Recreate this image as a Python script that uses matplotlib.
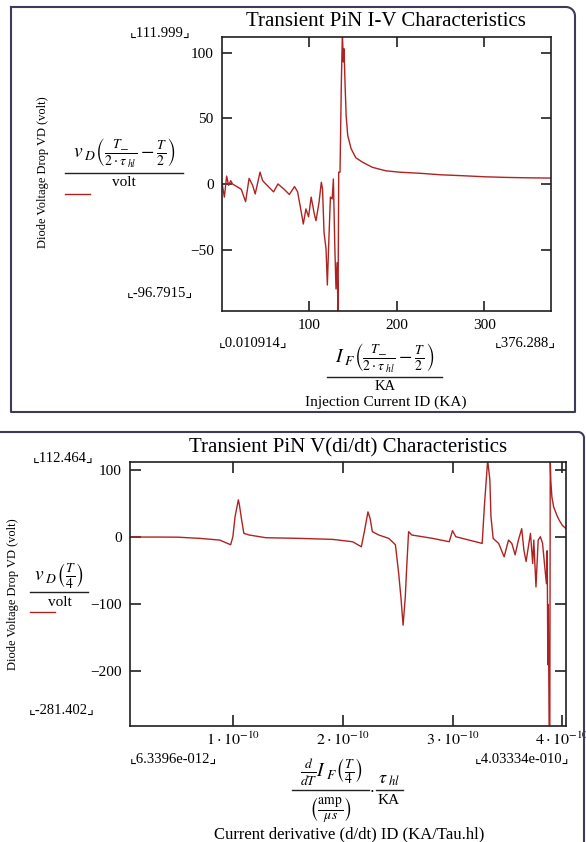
import numpy as np
import matplotlib.pyplot as plt
from matplotlib.lines import Line2D

plt.rcParams['font.family'] = ['Liberation Serif', 'DejaVu Sans']
plt.rcParams['mathtext.fontset'] = 'stix'

# ---- data ----
# top: transient PiN I-V (current KA, voltage volt)
iv_current = [0.01, 2.7, 5.3, 7.6, 10, 12, 22, 27, 31, 35, 38, 43.5, 46.5, 52, 59, 64,
              71, 77, 83, 86.5, 90, 93, 96, 99, 102, 105.6, 107.5, 111, 113.6, 115,
              116.7, 119, 120.5, 122, 124, 126, 127.4, 129, 130.4, 131.6, 132.7, 133.5,
              135, 136.5, 137.7, 138.8, 139.6, 140.7, 142, 143.8, 147.6, 153, 161, 172,
              187.6, 203, 230, 250, 275, 300, 325, 350, 376.288]
iv_voltage = [0.8, -10, 6, -1, 2.5, 0, -4, -13.5, 4.3, -1, -7.6, 9, 2.5, -1.3, -6, 0,
              -4, -8, -2, -6, -19, -30.5, -19, -25, -10, -23, -28, -14, 1.3, -4,
              -37, -49.5, -77, -47, -10, -11.4, 3.8, -47, -80, -60, -98, 9,
              9, 77, 115, 93, 103, 77, 52, 37, 27, 20, 16.5, 12.7,
              10, 9, 8, 7, 6.3, 5.5, 5, 4.7, 4.5]

# bottom: V vs di/dt (x in units of 1e-10)
didt_x = [0.0634, 0.3, 0.5, 0.70, 0.88, 0.98, 1.00, 1.02, 1.05, 1.06, 1.08, 1.10, 1.15,
          1.30, 1.61, 1.91, 2.09, 2.17, 2.20, 2.23, 2.25, 2.27, 2.33, 2.42, 2.48, 2.51,
          2.53, 2.55, 2.57, 2.58, 2.60, 2.63, 2.82, 2.97, 3.00, 3.03, 3.09, 3.27, 3.29,
          3.32, 3.34, 3.35, 3.37, 3.42, 3.47, 3.51, 3.54, 3.57, 3.60, 3.63, 3.65, 3.67,
          3.70, 3.71, 3.73, 3.74, 3.76, 3.78, 3.80, 3.82, 3.84, 3.855, 3.862, 3.868,
          3.872, 3.876, 3.880, 3.886, 3.890, 3.895, 3.905, 3.92, 3.95, 3.97, 4.00, 4.0333]
didt_v = [0.5, 0.5, 0.3, -1.5, -4, -11, 1, 31, 56, 48, 26, 6, 3.5,
          -0.5, -1.5, -3, -6.5, -14, 11, 38, 28, 8.5, 3.5, -1.5, -11, -54,
          -89, -131, -89, -54, 8.5, 3.5, -1.5, -6.5, 10, 1, -1.5, -9, 46,
          115, 86, 31, -1.5, -9, -29, -4, -9, -26, -4, 13, -19, -36,
          -4, 6, -39, -4, -74, -4, 1, -9, -44, -69, -20, -190,
          -100, -190, -290, -285, 115, 85, 60, 46, 33, 26, 18, 13]

W, H = 586, 842
red = '#b02222'
frame = '#3c3c5a'

fig = plt.figure(figsize=(W / 100, H / 100), dpi=100)


def fx(x):
    return x / W


def fy(y):
    return 1 - y / H


def txt(x, y, s, **kw):
    kw.setdefault('fontsize', 10.5)
    fig.text(fx(x), fy(y), s, ha='center', va='center', **kw)


def hline(x0, x1, y, color='#202020', lw=1.0):
    fig.add_artist(Line2D([fx(x0), fx(x1)], [fy(y), fy(y)], color=color, lw=lw))


def rng(s):
    return '\u231e' + s + '\u231f'


def style(ax, tlen):
    for sp in ax.spines.values():
        sp.set_linewidth(1.2)
        sp.set_color('#202020')
    ax.tick_params(direction='in', top=True, right=True, length=tlen, width=1.2,
                   labelsize=11, pad=6, color='#202020')


# ---------- top panel ----------
ax1 = fig.add_axes([fx(222), fy(311), fx(551) - fx(222), fy(37) - fy(311)])
ax1.plot(iv_current, iv_voltage, color=red, lw=1.0)
ax1.set_xlim(0.010914, 376.288)
ax1.set_ylim(-96.7915, 111.999)
ax1.set_xticks([100, 200, 300])
ax1.set_yticks([-50, 0, 50, 100])
ax1.set_yticklabels(['\u221250', '0', '50', '100'])
style(ax1, 7)

txt(386, 22, 'Transient PiN I-V Characteristics', fontsize=15)
txt(160, 33, rng('111.999'))
txt(160, 293, rng('-96.7915'))
txt(253, 343, rng('0.010914'))
txt(525, 343, rng('376.288'))
txt(43, 172, 'Diode Voltage Drop VD (volt)', rotation=90, fontsize=9)

# legend expression
txt(124, 153, r'$v_{\ D}\left(\frac{T\_}{2\cdot\tau_{\ hl}}-\frac{T}{2}\right)$', fontsize=14)
hline(65, 183, 173)
txt(124, 183, 'volt', fontsize=11)
hline(65, 90, 194, color=red)

# x label expression
txt(385, 357, r'$I_{\ F}\left(\frac{T\_}{2\cdot\tau_{\ hl}}-\frac{T}{2}\right)$', fontsize=14)
hline(327, 442, 377)
txt(385, 386, 'KA', fontsize=10.5)
txt(386, 402, 'Injection Current ID (KA)', fontsize=11)

# panel frame with rounded top-right corner
r = 9
a = np.linspace(np.pi / 2, 0, 10)
bx = [11, 575 - r] + list(575 - r + r * np.cos(a)) + [575, 11, 11]
by = [7, 7] + list(7 + r - r * np.sin(a)) + [412, 412, 7]
fig.add_artist(Line2D([fx(v) for v in bx], [fy(v) for v in by], color=frame, lw=1.5))

# ---------- bottom panel ----------
ax2 = fig.add_axes([fx(130), fy(726), fx(566) - fx(130), fy(462) - fy(726)])
ax2.plot(np.array(didt_x) * 1e-10, didt_v, color=red, lw=1.0)
ax2.set_xlim(6.3396e-12, 4.03334e-10)
ax2.set_ylim(-281.402, 112.464)
ax2.set_xticks([1e-10, 2e-10, 3e-10, 4e-10])
ax2.set_xticklabels([r'$1\cdot10^{-10}$', r'$2\cdot10^{-10}$',
                     r'$3\cdot10^{-10}$', r'$4\cdot10^{-10}$'])
ax2.set_yticks([-200, -100, 0, 100])
ax2.set_yticklabels(['\u2212200', '\u2212100', '0', '100'])
style(ax2, 8)
ax2.tick_params(axis='x', labelsize=11.5, pad=4)

txt(348, 448, 'Transient PiN V(di/dt) Characteristics', fontsize=15)
txt(63, 458, rng('112.464'))
txt(62, 710, rng('-281.402'))
txt(173, 759, rng('6.3396e-012'))
txt(522, 759, rng('4.03334e-010'))
txt(13, 594, 'Diode Voltage Drop VD (volt)', rotation=90, fontsize=9)

# legend expression
txt(59, 576, r'$v_{\ D}\left(\frac{T}{4}\right)$', fontsize=14)
hline(30, 88, 592)
txt(60, 602, 'volt', fontsize=11)
hline(30, 55, 612, color=red)

# x label expression
txt(331, 772, r'$\frac{d}{dT}I_{\ F}\left(\frac{T}{4}\right)$', fontsize=14)
hline(292, 369, 790)
txt(330, 810, r'$\left(\frac{\mathrm{amp}}{\mu s}\right)$', fontsize=14)
txt(372, 789, r'$\cdot$', fontsize=12)
txt(389, 780, r'$\tau_{\ hl}$', fontsize=13)
hline(376, 403, 790)
txt(389, 800, 'KA', fontsize=11)
txt(349, 834, 'Current derivative (d/dt) ID (KA/Tau.hl)', fontsize=12)

a2 = np.linspace(np.pi / 2, 0, 10)
sx = [0, 578] + list(578 + 6 * np.cos(a2)) + [584]
sy = [432, 432] + list(438 - 6 * np.sin(a2)) + [842]
fig.add_artist(Line2D([fx(v) for v in sx], [fy(v) for v in sy], color=frame, lw=1.5))

fig.savefig('out.png', dpi=100)
